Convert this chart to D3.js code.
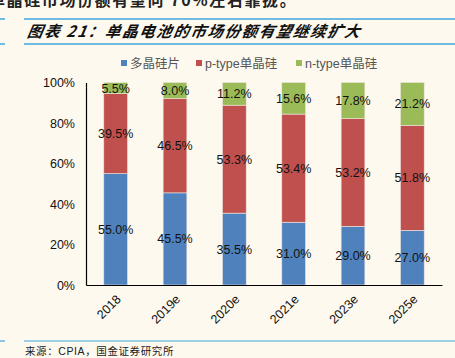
<!DOCTYPE html>
<html>
<head>
<meta charset="utf-8">
<script src="https://cdn.jsdelivr.net/npm/d3@7"></script>
<style>
  body { margin: 0; background: #FDF9EF; }
  svg { display: block; }
</style>
</head>
<body>
<script>
// data
const years = ["2018", "2019e", "2020e", "2021e", "2023e", "2025e"];
const seriesNames = ["多晶硅片", "p-type单晶硅", "n-type单晶硅"];
const multi = [55.0, 45.5, 35.5, 31.0, 29.0, 27.0];
const pType = [39.5, 46.5, 53.3, 53.4, 53.2, 51.8];
const nType = [5.5, 8.0, 11.2, 15.6, 17.8, 21.2];
const yTicks = [0, 20, 40, 60, 80, 100];
const colors = ["#4F81BD", "#C0504D", "#9BBB59"];

const W = 455, H = 358;
const svg = d3.select("body").append("svg")
  .attr("width", W)
  .attr("height", H)
  .style("background-color", "#FDF9EF");

const font = "Arial, 'Liberation Sans', 'Noto Sans CJK SC', sans-serif";
const cjk = "'Noto Sans CJK SC', sans-serif";

// cut-off line of body text at the top
svg.append("text")
  .attr("x", -11).attr("y", 6)
  .attr("font-family", cjk)
  .attr("font-size", "16px")
  .attr("font-weight", "bold")
  .attr("letter-spacing", "1.6px")
  .attr("fill", "#222")
  .text("单晶硅市场份额有望向 70%左右靠拢。");

// title rules
const rule = "#3EA6E0";
[19, 44].forEach(y => {
  svg.append("line").attr("x1", 0).attr("x2", 5).attr("y1", y).attr("y2", y)
    .attr("stroke", rule).attr("stroke-width", 1.5);
  svg.append("line").attr("x1", 24).attr("x2", W).attr("y1", y).attr("y2", y)
    .attr("stroke", rule).attr("stroke-width", 1.5);
});

svg.append("text")
  .attr("x", 27).attr("y", 37)
  .attr("font-family", cjk)
  .attr("font-size", "15.5px")
  .attr("font-weight", "bold")
  .attr("font-style", "italic")
  .attr("letter-spacing", "1.6px")
  .attr("fill", "#111")
  .attr("transform", "skewX(-10) translate(6,0)")
  .text("图表 21：单晶电池的市场份额有望继续扩大");

// legend
const legendX = [121, 196, 296];
seriesNames.forEach((name, i) => {
  svg.append("rect")
    .attr("x", legendX[i]).attr("y", 60)
    .attr("width", 6).attr("height", 6)
    .attr("fill", colors[i]);
  svg.append("text")
    .attr("x", legendX[i] + 9).attr("y", 67.5)
    .attr("font-family", font)
    .attr("font-size", "12.5px")
    .attr("fill", "#555")
    .text(name);
});

// scales
const x = d3.scaleBand().domain(years).range([86, 442]).paddingInner(0.6).paddingOuter(0.3);
const y = d3.scaleLinear().domain([0, 100]).range([285, 82.5]);

// stacked data
const rows = years.map((yr, i) => ({ year: yr, a: multi[i], b: pType[i], c: nType[i] }));
const stack = d3.stack().keys(["a", "b", "c"])(rows);

const g = svg.append("g");
stack.forEach((layer, li) => {
  g.selectAll(null).data(layer).enter().append("rect")
    .attr("x", d => x(d.data.year))
    .attr("width", x.bandwidth())
    .attr("y", d => y(d[1]))
    .attr("height", d => y(d[0]) - y(d[1]))
    .attr("fill", colors[li])
    .attr("stroke", "#F0E6E0")
    .attr("stroke-width", 0.6);
});
stack.forEach((layer, li) => {
  g.selectAll(null).data(layer).enter().append("text")
    .attr("x", d => x(d.data.year) + x.bandwidth() / 2)
    .attr("y", d => y((d[0] + d[1]) / 2) + 4.5)
    .attr("text-anchor", "middle")
    .attr("font-family", font)
    .attr("font-size", "12.5px")
    .attr("fill", "#111")
    .text(d => (d[1] - d[0]).toFixed(1) + "%");
});

// y axis
const yAxis = svg.append("g")
  .attr("transform", "translate(86,0)")
  .call(d3.axisLeft(y).tickValues(yTicks).tickSize(0).tickPadding(11).tickFormat(d => d + "%"));
yAxis.select(".domain").attr("stroke", "#000").attr("stroke-width", 1.2);
yAxis.selectAll("text")
  .attr("font-family", font)
  .attr("font-size", "12.5px")
  .attr("fill", "#111");

// x axis
const xAxis = svg.append("g")
  .attr("transform", "translate(0,285)")
  .call(d3.axisBottom(x).tickSize(0).tickPadding(0));
xAxis.select(".domain").attr("stroke", "#000").attr("stroke-width", 1.2);
xAxis.selectAll("text")
  .attr("font-family", font)
  .attr("font-size", "12.5px")
  .attr("fill", "#111")
  .attr("text-anchor", "end")
  .attr("dy", 0)
  .attr("transform", "translate(6,15) rotate(-45)");

// footer
svg.append("line").attr("x1", 0).attr("x2", 5).attr("y1", 341).attr("y2", 341)
  .attr("stroke", rule).attr("stroke-width", 1.2);
svg.append("line").attr("x1", 24).attr("x2", W).attr("y1", 341).attr("y2", 341)
  .attr("stroke", rule).attr("stroke-width", 1.2);
svg.append("text")
  .attr("x", 25).attr("y", 355)
  .attr("font-family", font)
  .attr("font-size", "10.5px")
  .attr("letter-spacing", "0.6px")
  .attr("fill", "#222")
  .text("来源：CPIA，国金证券研究所");
</script>
</body>
</html>
